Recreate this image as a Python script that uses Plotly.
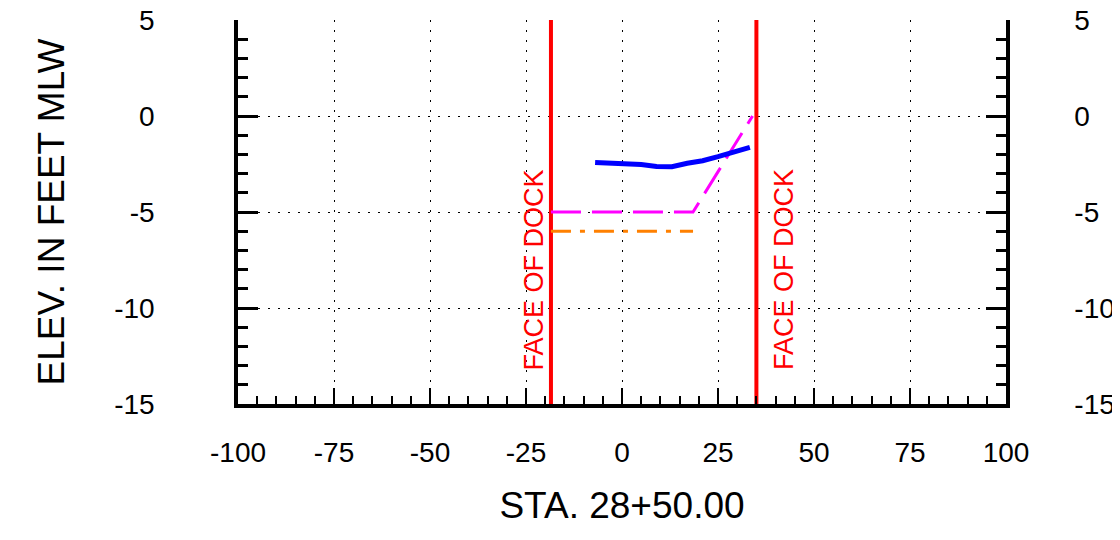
import plotly.graph_objects as go

# Data
dock_x = [-18.5, 35.0]
elev_range = [-15, 5]
survey_x = [-7, -4, -1, 2, 5, 9, 13, 17, 21, 25, 28, 30, 33.3]
survey_y = [-2.42, -2.44, -2.5, -2.53, -2.53, -2.63, -2.64, -2.46, -2.33, -2.12, -1.95, -1.82, -1.63]
design_x = [-18.5, 18.5, 34.0]
design_y = [-5, -5, 0]
overdredge_x = [-18.5, 18.5]
overdredge_y = [-6, -6]
x_ticks = [-100, -75, -50, -25, 0, 25, 50, 75, 100]
x_labels = ["-100", "-75", "-50", "-25", "0", "25", "50", "75", "100"]
y_ticks = [-15, -10, -5, 0, 5]
y_labels = ["-15", "-10", "-5", "0", "5"]
dock_label = "FACE OF DOCK"

FONT = "Liberation Sans, Arial, sans-serif"

fig = go.Figure()
for dx in dock_x:
    fig.add_trace(go.Scatter(x=[dx, dx], y=elev_range, mode="lines",
                             line=dict(color="#ff0000", width=4), showlegend=False, hoverinfo="skip"))
fig.add_trace(go.Scatter(x=overdredge_x, y=overdredge_y, mode="lines",
                         line=dict(color="#ff8000", width=3, dash="20px,9px,5px,9px"), showlegend=False))
fig.add_trace(go.Scatter(x=design_x, y=design_y, mode="lines",
                         line=dict(color="#ff00ff", width=3, dash="30px,11px"), showlegend=False))
fig.add_trace(go.Scatter(x=survey_x, y=survey_y, mode="lines",
                         line=dict(color="#0000ff", width=5), showlegend=False))
# invisible trace for right axis
fig.add_trace(go.Scatter(x=[None], y=[None], yaxis="y2", showlegend=False))

fig.add_annotation(x=dock_x[0], y=-8, xref="x", yref="y", text=dock_label, textangle=-90,
                   showarrow=False, xshift=-17, font=dict(family=FONT, size=27, color="#ff0000"))
fig.add_annotation(x=dock_x[1], y=-8, xref="x", yref="y", text=dock_label, textangle=-90,
                   showarrow=False, xshift=27, font=dict(family=FONT, size=27, color="#ff0000"))

grid = dict(showgrid=True, gridcolor="#000000", gridwidth=1.2, griddash="2px,8px")

fig.update_layout(
    width=1120, height=540,
    margin=dict(l=230, r=122, t=12, b=144),
    paper_bgcolor="white", plot_bgcolor="white",
    font=dict(family=FONT, color="#000000"),
    xaxis=dict(range=[-100, 100], tickvals=x_ticks, ticktext=x_labels, ticks="inside", ticklen=16, tickwidth=2,
               tickcolor="#000", showline=True, linecolor="#000", linewidth=3.5,
               zeroline=False, tickfont=dict(size=28), ticklabelstandoff=21, ticklabeloverflow="allow",
               minor=dict(ticks="inside", dtick=5, ticklen=8, tickwidth=2, tickcolor="#000", showgrid=False),
               title=dict(text="STA. 28+50.00", font=dict(size=37), standoff=26),
               automargin=False, **grid),
    yaxis=dict(range=elev_range, tickvals=y_ticks, ticktext=y_labels, ticks="inside", ticklen=20, tickwidth=3,
               tickcolor="#000", showline=True, linecolor="#000", linewidth=3.5,
               zeroline=False, tickfont=dict(size=28), ticklabelstandoff=74, ticklabeloverflow="allow",
               minor=dict(ticks="inside", dtick=1, ticklen=10, tickwidth=3, tickcolor="#000", showgrid=False),
               title=dict(text="ELEV. IN FEET MLW", font=dict(size=37), standoff=39),
               automargin=False, **grid),
    yaxis2=dict(range=elev_range, tickvals=y_ticks, ticktext=y_labels, overlaying="y", side="right", anchor="x",
                ticks="inside", ticklen=20, tickwidth=3, tickcolor="#000", showline=True,
                linecolor="#000", linewidth=3.5, showgrid=False, zeroline=False,
                tickfont=dict(size=28), ticklabelstandoff=59, ticklabeloverflow="allow",
                minor=dict(ticks="inside", dtick=1, ticklen=10, tickwidth=3, tickcolor="#000"),
                automargin=False),
)

fig.write_html("out.html")
